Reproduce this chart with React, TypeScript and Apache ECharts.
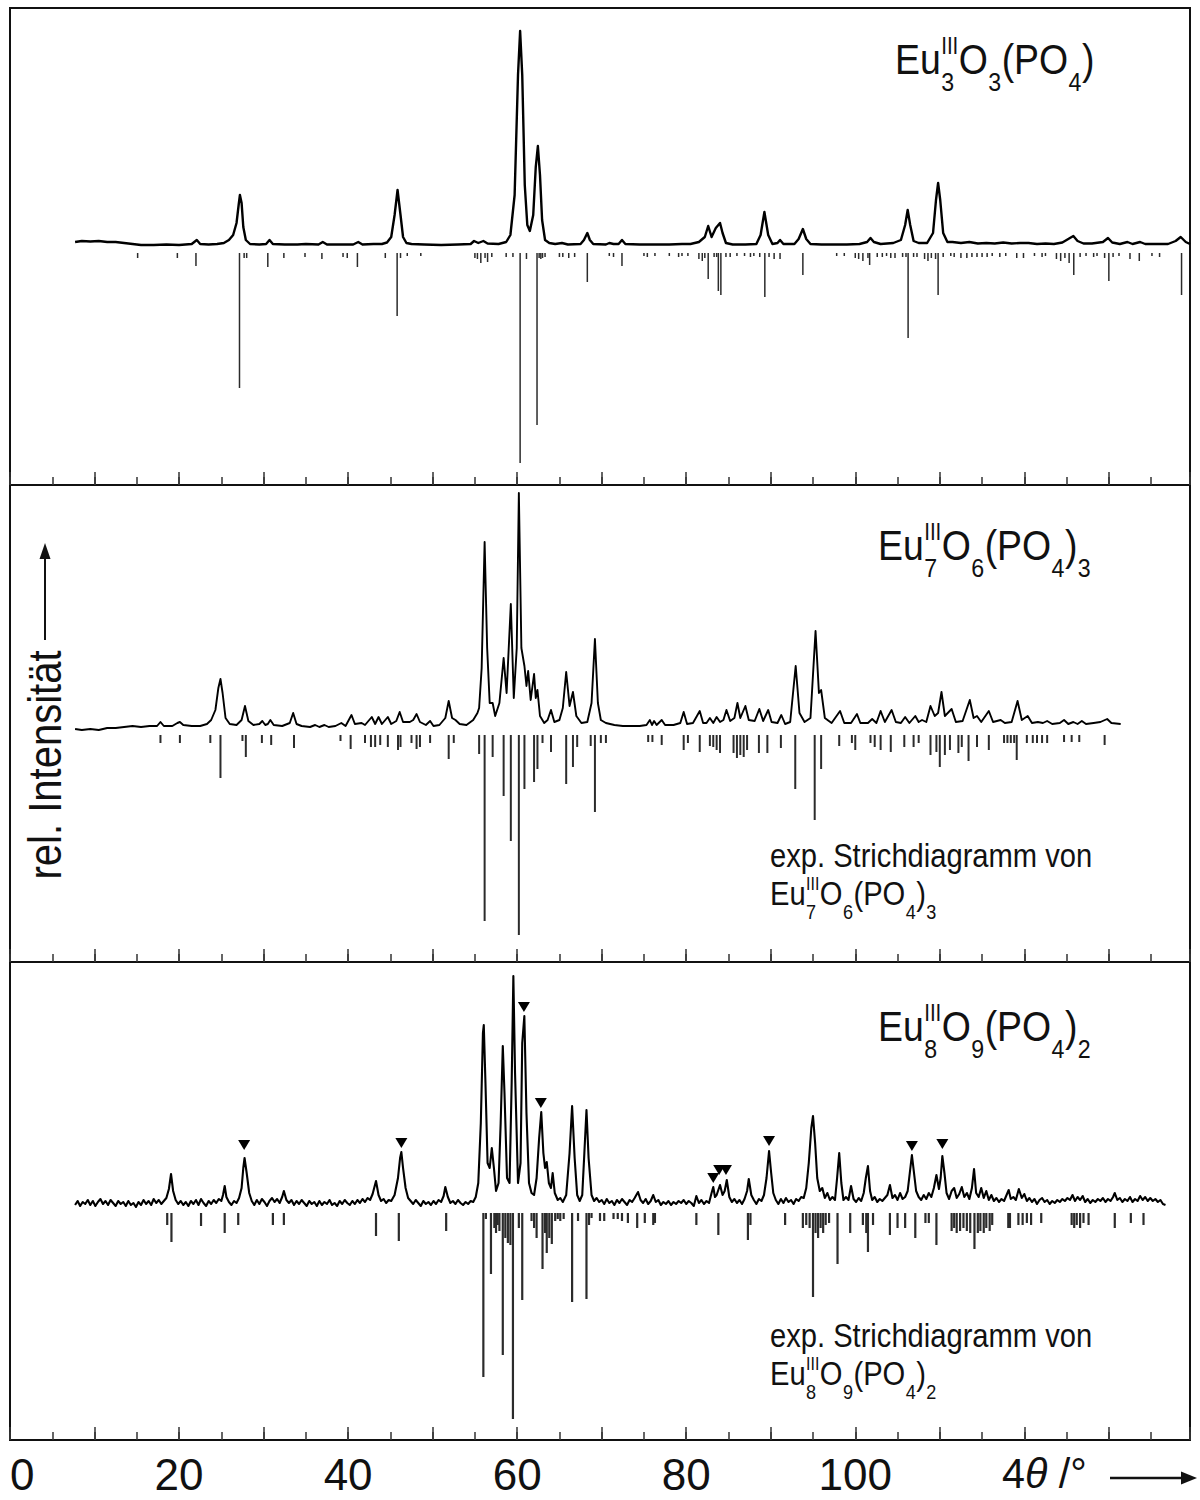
import React, { useEffect, useRef } from "react";
import * as echarts from "echarts";

// ---------- axis ----------
const X_MIN = 0;
const X_MAX = 139.6;
const X_TICK_LABELS = [0, 20, 40, 60, 80, 100];

// ---------- top panel: Eu3O3(PO4) ----------
const TOP_PROFILE: [number, number][] = [
  [7.7, 3], [8.5, 4], [9.5, 3.5], [10.5, 4], [11.5, 3], [12.5, 3], [13.5, 2], [14.5, 1], [15.5, 0], [17, 0], [18.5, 0.5], [20, 0],
  [21.5, 1], [22.1, 5], [22.5, 1], [23.5, 0.5], [24.5, 1], [25.3, 2], [25.9, 5], [26.4, 10], [26.8, 22], [27.05, 40], [27.2, 50],
  [27.4, 42], [27.6, 18], [27.9, 5], [28.4, 1], [29.5, 0.5], [30.3, 1], [30.7, 5], [31.1, 1], [32.5, 0.5], [34, 0.5], [35, 1],
  [36.5, 0.5], [37, 3], [37.5, 0.5], [39, 0.5], [40.6, 0.5], [41.2, 3], [41.7, 0.5], [43, 1], [44, 1], [44.6, 2.5], [45.1, 8],
  [45.5, 30], [45.85, 55], [46.2, 30], [46.5, 8], [46.9, 2], [47.5, 1], [49, 0.5], [51, 0], [53, 0.5], [54.5, 1], [54.9, 4],
  [55.4, 2], [56.0, 4], [56.5, 1.5], [57.8, 1], [58.7, 3], [59.2, 10], [59.7, 50], [60.1, 170], [60.35, 214], [60.6, 170],
  [60.9, 60], [61.2, 20], [61.5, 14], [61.9, 30], [62.2, 78], [62.45, 99], [62.7, 70], [62.95, 25], [63.3, 5], [63.8, 2],
  [64.5, 1], [65.3, 2], [66, 0.5], [67.5, 1], [67.9, 5], [68.3, 12], [68.6, 5], [69, 1], [70.5, 0.5], [70.9, 2], [71.4, 1],
  [72.0, 1], [72.4, 5], [72.8, 1], [74.5, 0.5], [76, 0.5], [78, 0.5], [79.5, 1], [80.5, 1], [81.5, 3], [82.2, 8], [82.6, 19],
  [83.0, 8], [83.5, 17], [84.0, 22], [84.3, 12], [84.7, 2], [85.5, 0.5], [87, 0.5], [88.3, 1], [88.8, 10], [89.25, 33],
  [89.7, 10], [90.2, 1], [90.8, 2], [91.1, 5], [91.5, 1], [92.8, 1], [93.3, 6], [93.8, 16], [94.2, 6], [94.7, 1], [96, 0.5],
  [97.5, 0.5], [99, 0.5], [100.5, 1], [101.4, 3], [101.8, 7], [102.2, 3], [103, 1], [104.5, 2], [105.4, 5], [105.9, 20],
  [106.2, 35], [106.5, 20], [106.9, 4], [107.5, 2], [108.5, 2], [109.2, 12], [109.55, 45], [109.8, 62], [110.05, 45],
  [110.4, 12], [110.9, 3], [111.5, 3], [112.5, 2], [113.5, 3], [114.5, 1.5], [115.5, 2], [116.5, 1.5], [117.5, 2.5],
  [118.5, 1.5], [119.5, 2], [120.5, 2], [121.5, 1], [122.5, 1.5], [123.5, 1], [124.5, 2.5], [125.2, 6], [125.8, 9],
  [126.3, 4], [127, 1.5], [128, 1.5], [129.3, 3], [129.9, 7], [130.4, 2.5], [131.3, 1], [132.2, 3], [132.8, 1], [133.7, 3],
  [134.3, 1], [135.5, 1], [137, 1], [137.9, 4], [138.5, 8], [139.1, 3], [139.6, 1],
];

const TOP_STICKS: [number, number][] = [
  [15.1, 5], [19.8, 5], [22.0, 13], [27.15, 135], [27.7, 5], [28.0, 5], [30.5, 14], [32.4, 5], [34.9, 4], [36.9, 6],
  [39.4, 4], [39.9, 5], [41.1, 14], [44.4, 5], [45.8, 63], [46.2, 5], [47.0, 3], [48.6, 3], [55.0, 5], [55.3, 6],
  [55.7, 10], [56.2, 5], [56.5, 9], [57.0, 4], [58.7, 4], [59.5, 4], [60.35, 210], [61.1, 6], [62.35, 172], [62.6, 5],
  [62.8, 6], [63.0, 5], [63.3, 4], [65.0, 4], [65.4, 4], [66.1, 5], [66.8, 4], [68.3, 29], [70.9, 3], [71.4, 4],
  [72.4, 13], [75.0, 3], [75.4, 4], [76.3, 3], [78.0, 3], [79.1, 4], [79.5, 3], [80.2, 3], [81.5, 6], [81.9, 8],
  [82.2, 5], [82.6, 26], [83.3, 4], [83.6, 4], [83.8, 38], [84.1, 42], [84.7, 4], [85.2, 4], [86.0, 3], [86.9, 3],
  [87.6, 4], [88.0, 3], [88.7, 4], [89.3, 44], [89.8, 4], [90.4, 6], [91.1, 6], [93.8, 22], [97.8, 3], [98.7, 3],
  [100.0, 5], [100.4, 6], [100.9, 8], [101.5, 5], [101.7, 12], [102.6, 4], [103.2, 4], [103.7, 3], [104.2, 5], [104.7, 5],
  [105.6, 4], [106.0, 4], [106.25, 85], [106.9, 4], [107.3, 4], [108.2, 6], [108.6, 8], [109.0, 5], [109.5, 6],
  [109.8, 42], [110.4, 4], [111.3, 3], [111.7, 4], [112.5, 5], [113.2, 5], [113.8, 4], [114.4, 4], [115.0, 4], [115.6, 4],
  [116.2, 3], [117.1, 4], [117.8, 3], [119.1, 5], [119.9, 5], [121.2, 3], [122.1, 4], [122.5, 3], [123.8, 6], [124.3, 8],
  [124.8, 5], [125.3, 10], [125.85, 22], [126.6, 4], [127.3, 3], [128.2, 4], [128.6, 3], [129.5, 5], [130.0, 28],
  [130.5, 4], [131.2, 3], [132.5, 6], [133.6, 8], [135.1, 3], [136.0, 4], [138.6, 42],
];

// ---------- middle panel: Eu7O6(PO4)3 ----------
const MID_PROFILE: [number, number][] = [
  [7.7, -1], [8.5, -2], [9.5, -1], [10.5, -2], [11.5, 0], [12.5, 0], [13.5, 1], [14.5, 2], [15.5, 1], [16.5, 2], [17.4, 2],
  [17.8, 6], [18.2, 2], [19.2, 2], [19.8, 5], [20.1, 6], [20.5, 3], [21.5, 2], [22.5, 2], [23.3, 4], [23.8, 8], [24.3, 18],
  [24.65, 40], [24.9, 49], [25.15, 35], [25.5, 10], [26.0, 4], [26.8, 3], [27.4, 8], [27.8, 22], [28.2, 7], [28.8, 3],
  [29.5, 4], [29.85, 7], [30.2, 3], [30.5, 4], [30.8, 8], [31.2, 3], [32.2, 2], [33.1, 5], [33.5, 15], [33.9, 4], [34.5, 2],
  [35.5, 1], [36.1, 3], [36.6, 1], [37.2, 3], [37.7, 1], [38.5, 2], [39.2, 5], [39.7, 2], [40.4, 13], [40.8, 4], [41.6, 5],
  [42.0, 3], [42.8, 11], [43.2, 4], [43.6, 11], [44.0, 4], [44.7, 11], [45.1, 4], [45.7, 7], [46.1, 16], [46.5, 6],
  [47.3, 6], [47.7, 8], [48.1, 14], [48.5, 6], [49.2, 3], [49.7, 7], [50.1, 2], [50.8, 3], [51.5, 10], [51.9, 27],
  [52.3, 10], [52.7, 8], [53.2, 4], [54.0, 3], [54.8, 8], [55.3, 15], [55.5, 20], [55.8, 60], [56.15, 186], [56.45, 80],
  [56.75, 25], [57.1, 25], [57.4, 12], [57.9, 25], [58.4, 70], [58.75, 35], [59.25, 124], [59.6, 30], [59.95, 80],
  [60.2, 235], [60.5, 80], [60.86, 62], [61.1, 42], [61.3, 57], [61.6, 28], [62.0, 54], [62.2, 30], [62.4, 38], [62.7, 12],
  [63.2, 5], [63.6, 8], [64.0, 18], [64.4, 6], [65.0, 8], [65.4, 20], [65.8, 56], [66.2, 22], [66.6, 36], [67.0, 12],
  [67.6, 5], [68.3, 6], [68.8, 25], [69.2, 89], [69.55, 25], [69.9, 8], [70.5, 5], [71.5, 3], [72.5, 2], [73.5, 2],
  [74.5, 2], [75.3, 3], [75.7, 8], [75.95, 3], [76.2, 7], [76.5, 3], [77.1, 8], [77.5, 3], [78.5, 3], [79.3, 5], [79.7, 16],
  [80.1, 4], [80.8, 5], [81.6, 17], [82.0, 5], [82.4, 5], [82.8, 10], [83.2, 5], [83.6, 11], [84.0, 6], [84.4, 8],
  [84.76, 18], [85.2, 7], [85.7, 10], [86.06, 25], [86.4, 10], [87.0, 22], [87.4, 8], [88.1, 7], [88.65, 19], [89.1, 7],
  [89.7, 18], [90.1, 6], [90.8, 5], [91.25, 13], [91.7, 4], [92.3, 6], [92.95, 62], [93.4, 15], [94.0, 6], [94.7, 10],
  [95.3, 97], [95.7, 35], [95.96, 38], [96.4, 10], [97.2, 5], [98.2, 17], [98.7, 5], [99.5, 5], [100.2, 14], [100.6, 5],
  [101.5, 5], [102.0, 9], [102.5, 5], [103.0, 17], [103.5, 6], [104.3, 18], [104.8, 6], [105.4, 5], [105.9, 11],
  [106.4, 5], [107.1, 12], [107.5, 6], [107.9, 8], [108.4, 6], [108.9, 22], [109.4, 12], [109.8, 15], [110.2, 36],
  [110.6, 12], [111.4, 19], [111.9, 6], [112.7, 7], [113.55, 28], [114.0, 10], [114.4, 12], [114.9, 6], [115.8, 17],
  [116.3, 6], [117.2, 8], [117.7, 5], [118.5, 6], [119.2, 27], [119.7, 8], [120.4, 12], [120.9, 5], [121.6, 6], [122.2, 5],
  [122.7, 7], [123.3, 4], [124.2, 5], [124.7, 8], [125.2, 4], [125.8, 6], [126.3, 4], [126.8, 7], [127.3, 4], [128.2, 5],
  [129.0, 6], [129.8, 9], [130.3, 5], [131.4, 4],
];

const MID_STICKS: [number, number][] = [
  [17.8, 8], [20.1, 8], [23.7, 8], [24.9, 43], [27.5, 6], [27.9, 22], [29.8, 8], [30.9, 10], [33.6, 13], [39.1, 6],
  [40.3, 14], [42.0, 8], [42.7, 12], [43.2, 12], [43.8, 10], [44.7, 12], [45.9, 15], [46.2, 12], [47.5, 8], [48.1, 14],
  [48.5, 12], [49.7, 8], [51.9, 24], [52.5, 8], [55.5, 19], [56.15, 186], [57.1, 22], [58.4, 61], [59.25, 106],
  [60.2, 200], [60.86, 54], [62.0, 47], [62.4, 34], [63.0, 8], [64.0, 17], [65.8, 49], [66.6, 32], [67.1, 12], [68.7, 11],
  [69.2, 77], [69.9, 8], [70.5, 8], [75.5, 7], [76.0, 7], [77.1, 10], [79.7, 15], [80.2, 8], [81.6, 17], [82.8, 11],
  [83.2, 12], [83.6, 15], [84.0, 18], [85.6, 18], [86.0, 23], [86.4, 20], [86.8, 22], [87.2, 15], [88.6, 18], [89.6, 18],
  [91.2, 13], [92.9, 54], [95.2, 85], [95.96, 34], [98.1, 11], [99.6, 8], [100.0, 15], [101.8, 8], [102.3, 12],
  [103.0, 15], [104.2, 17], [105.8, 12], [106.9, 12], [107.5, 8], [108.9, 20], [109.6, 17], [110.0, 32], [110.6, 20],
  [111.2, 15], [112.2, 18], [112.6, 12], [113.4, 26], [114.4, 12], [115.8, 15], [117.6, 8], [118.0, 8], [118.4, 8],
  [118.8, 8], [119.1, 25], [120.3, 8], [121.0, 8], [121.5, 8], [122.1, 8], [122.7, 8], [124.7, 7], [125.6, 7], [126.5, 7],
  [129.5, 10],
];

// ---------- bottom panel: Eu8O9(PO4)2 ----------
const BOT_PROFILE: [number, number][] = [
  [7.7, -2], [8.0, 2], [8.3, -3], [8.6, 1], [8.9, -1], [9.2, 3], [9.5, -2], [9.8, 2], [10.1, -3], [10.4, 1], [10.7, 4],
  [11.0, -1], [11.3, 2], [11.6, -2], [11.9, 3], [12.2, 0], [12.5, -3], [12.8, 2], [13.1, -1], [13.4, 1], [13.7, -3],
  [14.0, 2], [14.3, -2], [14.6, 0], [14.9, -4], [15.2, 1], [15.5, -2], [15.8, 3], [16.1, -1], [16.4, 2], [16.7, -2],
  [17.0, 4], [17.3, 0], [17.6, 3], [17.9, -1], [18.2, 2], [18.5, 5], [18.8, 14], [19.05, 29], [19.3, 12], [19.6, 3],
  [19.9, -1], [20.2, 2], [20.5, -2], [20.8, 1], [21.1, -3], [21.4, 2], [21.7, -1], [22.0, 3], [22.3, -2], [22.6, 4],
  [22.9, 0], [23.2, -3], [23.5, 2], [23.8, -1], [24.1, 3], [24.4, 0], [24.7, 4], [25.0, 2], [25.2, 8], [25.4, 17],
  [25.6, 6], [25.9, 1], [26.2, -2], [26.5, 2], [26.8, 0], [27.1, 5], [27.4, 15], [27.6, 35], [27.75, 45], [28.0, 30],
  [28.3, 10], [28.6, 2], [28.9, -2], [29.2, 3], [29.5, -1], [29.8, 4], [30.1, 1], [30.4, -3], [30.7, 2], [31.0, 5],
  [31.3, 1], [31.6, 4], [31.9, 0], [32.2, 6], [32.4, 12], [32.7, 3], [33.0, 0], [33.3, 3], [33.6, -2], [33.9, 2],
  [34.2, -1], [34.5, 3], [34.8, 0], [35.1, -3], [35.4, 2], [35.7, -1], [36.0, 1], [36.3, -3], [36.6, 2], [36.9, -2],
  [37.2, 1], [37.5, -1], [37.8, 3], [38.1, -2], [38.4, 0], [38.7, -3], [39.0, 2], [39.3, -1], [39.6, 3], [39.9, 0],
  [40.2, -2], [40.5, 2], [40.8, -1], [41.1, 3], [41.4, 0], [41.7, 4], [42.0, 1], [42.3, 5], [42.6, 3], [42.9, 9],
  [43.3, 22], [43.6, 8], [43.9, 2], [44.2, 4], [44.5, 0], [44.8, 3], [45.1, 2], [45.5, 8], [45.9, 25], [46.15, 45],
  [46.3, 51], [46.5, 35], [46.8, 15], [47.1, 5], [47.4, 2], [47.7, -1], [48.0, 3], [48.3, 0], [48.6, -3], [48.9, 2],
  [49.2, -1], [49.5, 1], [49.8, -2], [50.1, 2], [50.4, -1], [50.7, 3], [51.0, 1], [51.3, 7], [51.5, 16], [51.8, 6],
  [52.1, 0], [52.4, 2], [52.7, -1], [53.0, 3], [53.3, 0], [53.6, -2], [53.9, 1], [54.2, -1], [54.5, 2], [54.8, 1],
  [55.1, 6], [55.4, 20], [55.7, 80], [55.95, 170], [56.05, 178], [56.25, 120], [56.5, 40], [56.75, 35], [57.0, 55],
  [57.25, 35], [57.5, 12], [57.8, 20], [58.05, 80], [58.3, 157], [58.5, 110], [58.8, 25], [59.1, 20], [59.35, 120],
  [59.55, 227], [59.75, 130], [60.1, 20], [60.4, 40], [60.6, 160], [60.85, 187], [61.1, 90], [61.4, 20], [61.7, 10],
  [62.0, 8], [62.3, 25], [62.6, 65], [62.85, 91], [63.1, 50], [63.3, 35], [63.5, 41], [63.75, 20], [64.0, 15], [64.2, 30],
  [64.45, 10], [64.8, 3], [65.1, 5], [65.4, 1], [65.8, 8], [66.2, 50], [66.5, 97], [66.8, 45], [67.1, 8], [67.4, 2],
  [67.7, 8], [67.95, 50], [68.2, 93], [68.45, 45], [68.8, 8], [69.1, 2], [69.4, 5], [69.7, 1], [70.0, 3], [70.3, -1],
  [70.6, 4], [70.9, 0], [71.2, 2], [71.5, -2], [71.8, 3], [72.1, 0], [72.4, 4], [72.7, 1], [73.0, -2], [73.3, 3], [73.6, 1],
  [73.9, 5], [74.3, 11], [74.6, 3], [74.9, 0], [75.2, 4], [75.5, -1], [75.8, 2], [76.1, 8], [76.4, 1], [76.7, 3],
  [77.0, -2], [77.3, 1], [77.6, -1], [77.9, 2], [78.2, -2], [78.5, 1], [78.8, -1], [79.1, 2], [79.4, 0], [79.7, 3],
  [80.0, -1], [80.3, 2], [80.6, 0], [80.9, -3], [81.2, 7], [81.5, 0], [81.8, 3], [82.1, -1], [82.4, 2], [82.7, 0],
  [83.0, 10], [83.2, 16], [83.4, 6], [83.6, 8], [84.0, 18], [84.3, 8], [84.55, 12], [84.8, 23], [85.1, 6], [85.4, 1],
  [85.7, 4], [86.0, 0], [86.3, 3], [86.6, -1], [86.9, 4], [87.2, 12], [87.4, 24], [87.7, 8], [88.0, 3], [88.3, -1],
  [88.6, 4], [88.9, 2], [89.2, 8], [89.5, 25], [89.8, 52], [90.05, 30], [90.3, 10], [90.6, 3], [90.9, -1], [91.2, 4],
  [91.5, 0], [91.8, 5], [92.1, 1], [92.4, 3], [92.7, -1], [93.0, 4], [93.3, 2], [93.6, 6], [93.9, 5], [94.2, 15],
  [94.5, 40], [94.8, 75], [95.0, 87], [95.25, 60], [95.5, 25], [95.8, 12], [96.1, 15], [96.4, 5], [96.7, 10], [97.0, 3],
  [97.3, 6], [97.6, 3], [97.85, 25], [98.1, 50], [98.35, 20], [98.6, 3], [98.9, 6], [99.2, 3], [99.5, 17], [99.8, 4],
  [100.1, 1], [100.4, 5], [100.7, 2], [101.0, 10], [101.25, 25], [101.5, 37], [101.75, 12], [102.0, 3], [102.3, 6],
  [102.6, 1], [102.9, 4], [103.2, 2], [103.5, 5], [103.8, 8], [104.1, 18], [104.4, 5], [104.7, 8], [105.0, 3], [105.3, 10],
  [105.6, 4], [105.9, 6], [106.2, 12], [106.45, 30], [106.7, 48], [106.95, 30], [107.2, 12], [107.5, 6], [107.8, 3],
  [108.1, 8], [108.4, 4], [108.7, 10], [109.0, 6], [109.3, 15], [109.6, 28], [109.9, 14], [110.1, 25], [110.3, 47],
  [110.55, 30], [110.8, 10], [111.1, 4], [111.4, 12], [111.7, 15], [112.0, 5], [112.3, 9], [112.6, 16], [112.9, 6],
  [113.2, 10], [113.5, 4], [113.8, 15], [114.05, 34], [114.3, 10], [114.6, 6], [114.9, 15], [115.2, 5], [115.5, 12],
  [115.8, 3], [116.1, 8], [116.4, 2], [116.7, 5], [117.0, 1], [117.3, 4], [117.6, 2], [117.9, 8], [118.15, 13],
  [118.4, 4], [118.7, 6], [119.0, 3], [119.35, 14], [119.7, 5], [120.0, 9], [120.3, 2], [120.6, 5], [120.9, 1], [121.2, 4],
  [121.5, -1], [121.8, 3], [122.1, 5], [122.4, 1], [122.7, 3], [123.0, -1], [123.3, 2], [123.6, 0], [123.9, 3], [124.2, 1],
  [124.5, 4], [124.8, 2], [125.1, 5], [125.4, 3], [125.7, 8], [126.0, 2], [126.3, 6], [126.6, 3], [126.9, 7], [127.2, 1],
  [127.5, 4], [127.8, 0], [128.1, 3], [128.4, 1], [128.7, 4], [129.0, 2], [129.3, 5], [129.6, 1], [129.9, 4], [130.2, 2],
  [130.5, 6], [130.7, 10], [131.0, 3], [131.3, 5], [131.6, 1], [131.9, 4], [132.2, 2], [132.5, 6], [132.8, 1], [133.1, 4],
  [133.4, 2], [133.7, 7], [134.0, 3], [134.3, 6], [134.6, 2], [134.9, 5], [135.2, 2], [135.5, 4], [135.8, 1], [136.1, 3],
  [136.4, -1], [136.7, -2],
];

const BOT_STICKS: [number, number][] = [
  [18.6, 12], [19.1, 29], [22.6, 13], [25.4, 20], [27.0, 12], [31.1, 12], [32.4, 12], [43.3, 23], [46.0, 28], [51.6, 18],
  [56.0, 164], [56.3, 6], [56.9, 61], [57.3, 15], [57.5, 20], [57.7, 12], [57.9, 18], [58.3, 142], [58.6, 25], [58.9, 30],
  [59.2, 32], [59.5, 206], [60.2, 15], [60.6, 87], [61.7, 8], [62.0, 15], [62.3, 25], [63.0, 56], [63.3, 20], [63.5, 40],
  [63.8, 25], [64.1, 31], [64.5, 8], [64.8, 6], [65.1, 8], [65.5, 6], [66.5, 89], [67.2, 8], [68.2, 86], [68.5, 12],
  [68.8, 5], [69.8, 8], [70.3, 8], [71.4, 6], [71.9, 6], [72.4, 8], [73.1, 10], [74.2, 15], [75.1, 10], [76.1, 12],
  [76.3, 10], [81.2, 12], [83.8, 22], [87.3, 27], [87.6, 12], [91.7, 12], [93.8, 15], [94.2, 12], [94.6, 15], [95.0, 84],
  [95.3, 20], [95.6, 25], [95.9, 15], [96.2, 20], [96.5, 12], [96.9, 10], [97.9, 51], [99.4, 20], [100.9, 12], [101.3, 20],
  [101.5, 39], [102.1, 12], [104.1, 22], [105.0, 15], [105.9, 15], [107.1, 25], [108.3, 10], [108.7, 10], [109.6, 32],
  [111.4, 18], [111.7, 15], [112.0, 20], [112.4, 18], [112.8, 15], [113.2, 18], [113.6, 20], [114.1, 36], [114.5, 20],
  [114.8, 18], [115.2, 20], [115.5, 15], [115.9, 18], [116.2, 12], [118.1, 15], [118.3, 15], [119.3, 12], [119.8, 12],
  [120.3, 10], [120.8, 12], [122.0, 10], [125.6, 12], [125.9, 15], [126.2, 12], [126.6, 15], [127.0, 10], [127.6, 12],
  [130.7, 15], [132.6, 10], [134.1, 12],
];

// ▼ markers (foreign-phase reflections) in the bottom pattern
const BOT_MARKERS: [number, number][] = [
  [27.7, 58], [46.3, 60], [60.8, 196], [62.8, 100], [83.2, 25], [83.9, 33], [84.7, 33], [89.8, 62], [106.7, 57], [110.3, 59],
];

// ---------- titles ----------
type Part = { t: string; sub?: string; sup?: string };
const TITLE_TOP: Part[] = [{ t: "Eu", sub: "3", sup: "III" }, { t: "O", sub: "3" }, { t: "(PO", sub: "4" }, { t: ")" }];
const TITLE_MID: Part[] = [{ t: "Eu", sub: "7", sup: "III" }, { t: "O", sub: "6" }, { t: "(PO", sub: "4" }, { t: ")", sub: "3" }];
const TITLE_BOT: Part[] = [{ t: "Eu", sub: "8", sup: "III" }, { t: "O", sub: "9" }, { t: "(PO", sub: "4" }, { t: ")", sub: "2" }];
const NOTE_LINE = "exp. Strichdiagramm von";
const Y_TITLE = "rel. Intensität";

const FAMILY = '"Liberation Sans", Arial, sans-serif';
const INK = "#111";
const COND = 0.87;

let measureCtx: CanvasRenderingContext2D | null = null;
function measure(text: string, size: number, style = "") {
  if (!measureCtx) measureCtx = document.createElement("canvas").getContext("2d");
  measureCtx!.font = `${style} ${size}px "Liberation Sans"`;
  return measureCtx!.measureText(text).width;
}
function hasFont(name: string) {
  const c = document.createElement("canvas").getContext("2d")!;
  c.font = "50px monospace";
  const w0 = c.measureText("100 abc Wg").width;
  c.font = `50px "${name}", monospace`;
  const w1 = c.measureText("100 abc Wg").width;
  return Math.abs(w0 - w1) > 0.5;
}

function txt(text: string, x: number, y: number, size: number, italic = false) {
  return {
    type: "text",
    x,
    y,
    style: {
      text,
      font: `${italic ? "italic " : ""}${size}px ${FAMILY}`,
      fill: INK,
      textAlign: "left",
      textVerticalAlign: "middle",
      align: "left",
      verticalAlign: "middle",
    },
  };
}

function formula(parts: Part[], x: number, baseline: number, size: number) {
  const subSize = size * 0.62;
  const supSize = size * 0.55;
  const children: any[] = [];
  let cx = 0;
  for (const p of parts) {
    children.push(txt(p.t, cx, -0.35 * size, size));
    cx += measure(p.t, size);
    let adv = 0;
    if (p.sup) {
      children.push(txt(p.sup, cx + 0.5, -0.49 * size - 0.35 * supSize, supSize));
      adv = Math.max(adv, measure(p.sup, supSize));
    }
    if (p.sub) {
      children.push(txt(p.sub, cx + 0.5, 0.37 * size - 0.35 * subSize, subSize));
      adv = Math.max(adv, measure(p.sub, subSize));
    }
    if (adv) cx += adv + 1;
  }
  return { type: "group", x, y: baseline, scaleX: COND, children };
}

function stickRenderer(gap: number, width: number) {
  return (params: any, api: any) => {
    const x = api.value(0);
    const len = api.value(1);
    const p0 = api.coord([x, -gap]);
    const p1 = api.coord([x, -gap - len]);
    return {
      type: "line",
      shape: { x1: p0[0], y1: p0[1], x2: p1[0], y2: p1[1] },
      style: { stroke: "#2b2b2b", lineWidth: width },
    };
  };
}

export default function App() {
  const ref = useRef<HTMLDivElement>(null);
  useEffect(() => {
    if (!ref.current) return;
    const chart = echarts.init(ref.current, undefined, { renderer: "svg" });
    const narrow = hasFont("Liberation Sans Narrow");
    const labelFont = narrow ? '"Liberation Sans Narrow"' : FAMILY;
    const labelSize = narrow ? 50 : 44;

    const grids = [
      { top: 8, height: 477 },
      { top: 485, height: 477 },
      { top: 962, height: 478 },
    ].map((g) => ({
      left: 10,
      width: 1180,
      top: g.top,
      height: g.height,
      show: true,
      borderColor: "#111",
      borderWidth: 2,
      backgroundColor: "transparent",
    }));

    const yRanges = [
      [-240, 237],
      [-234, 243],
      [-237, 241],
    ];

    const xAxes: any[] = [];
    for (let g = 0; g < 3; g++) {
      xAxes.push({
        type: "value",
        gridIndex: g,
        min: X_MIN,
        max: X_MAX,
        interval: 10,
        position: "bottom",
        axisLine: { show: false, onZero: false },
        splitLine: { show: false },
        axisTick: { show: true, inside: true, length: 13, lineStyle: { color: "#333", width: 1.5 } },
        axisLabel: {
          show: g === 2,
          inside: false,
          margin: 12,
          color: INK,
          fontFamily: labelFont,
          fontSize: labelSize,
          alignMinLabel: "left",
          formatter: (v: number) => (X_TICK_LABELS.includes(v) ? String(v) : ""),
        },
      });
      xAxes.push({
        type: "value",
        gridIndex: g,
        min: X_MIN,
        max: X_MAX,
        interval: 5,
        position: "bottom",
        axisLine: { show: false, onZero: false },
        splitLine: { show: false },
        axisTick: { show: true, inside: true, length: 8, lineStyle: { color: "#333", width: 1.5 } },
        axisLabel: { show: false },
      });
    }

    const yAxes = yRanges.map((r, g) => ({
      type: "value",
      gridIndex: g,
      min: r[0],
      max: r[1],
      show: false,
    }));

    const profiles = [TOP_PROFILE, MID_PROFILE, BOT_PROFILE];
    const sticks = [TOP_STICKS, MID_STICKS, BOT_STICKS];
    const gaps = [8, 7, 10];
    const stickW = [1.5, 2, 2.2];
    const lineW = [2.4, 1.9, 2.1];

    const series: any[] = [];
    for (let g = 0; g < 3; g++) {
      series.push({
        type: "line",
        xAxisIndex: 2 * g,
        yAxisIndex: g,
        data: profiles[g],
        showSymbol: false,
        symbol: "none",
        silent: true,
        lineStyle: { color: "#000", width: lineW[g], join: "round" },
      });
      series.push({
        type: "custom",
        xAxisIndex: 2 * g,
        yAxisIndex: g,
        data: sticks[g],
        encode: { x: 0, y: 1 },
        silent: true,
        renderItem: stickRenderer(gaps[g], stickW[g]),
      });
    }
    series.push({
      type: "scatter",
      xAxisIndex: 4,
      yAxisIndex: 2,
      data: BOT_MARKERS,
      symbol: "triangle",
      symbolRotate: 180,
      symbolSize: [12, 10],
      silent: true,
      itemStyle: { color: "#000", opacity: 1 },
    });

    const noteSize = 33.5;
    const xt = 43;
    const graphic: any[] = [
      formula(TITLE_TOP, 895, 75, 43),
      formula(TITLE_MID, 878, 561, 43),
      formula(TITLE_BOT, 878, 1042, 43),
      { type: "group", x: 770, y: 868, scaleX: COND, children: [txt(NOTE_LINE, 0, -0.35 * noteSize, noteSize)] },
      formula(TITLE_MID, 770, 906, noteSize),
      { type: "group", x: 770, y: 1348, scaleX: COND, children: [txt(NOTE_LINE, 0, -0.35 * noteSize, noteSize)] },
      formula(TITLE_BOT, 770, 1386, noteSize),
      // y-axis title with arrow
      {
        type: "text",
        x: 45,
        y: 765,
        rotation: Math.PI / 2,
        scaleX: COND,
        style: {
          text: Y_TITLE,
          font: `46px ${FAMILY}`,
          fill: INK,
          textAlign: "center",
          textVerticalAlign: "middle",
          align: "center",
          verticalAlign: "middle",
        },
      },
      { type: "line", shape: { x1: 45, y1: 640, x2: 45, y2: 556 }, style: { stroke: INK, lineWidth: 2 } },
      { type: "polygon", shape: { points: [[45, 543], [39.5, 559], [50.5, 559]] }, style: { fill: INK } },
      // x-axis title with arrow
      {
        type: "group",
        x: 1002,
        y: 1473,
        scaleX: 0.96,
        children: (() => {
          const w4 = measure("4", xt);
          const wt = measure("θ", xt, "italic");
          return [txt("4", 0, 0, xt), txt("θ", w4, 0, xt, true), txt(" /°", w4 + wt, 0, xt)];
        })(),
      },
      { type: "line", shape: { x1: 1110, y1: 1478, x2: 1184, y2: 1478 }, style: { stroke: INK, lineWidth: 2.5 } },
      { type: "polygon", shape: { points: [[1197, 1478], [1181, 1471.5], [1181, 1484.5]] }, style: { fill: INK } },
    ];

    chart.setOption({
      animation: false,
      backgroundColor: "#fff",
      grid: grids,
      xAxis: xAxes,
      yAxis: yAxes,
      series,
      graphic,
    });
    return () => chart.dispose();
  }, []);

  return <div ref={ref} style={{ position: "absolute", left: 0, top: 0, width: 1200, height: 1500 }} />;
}
